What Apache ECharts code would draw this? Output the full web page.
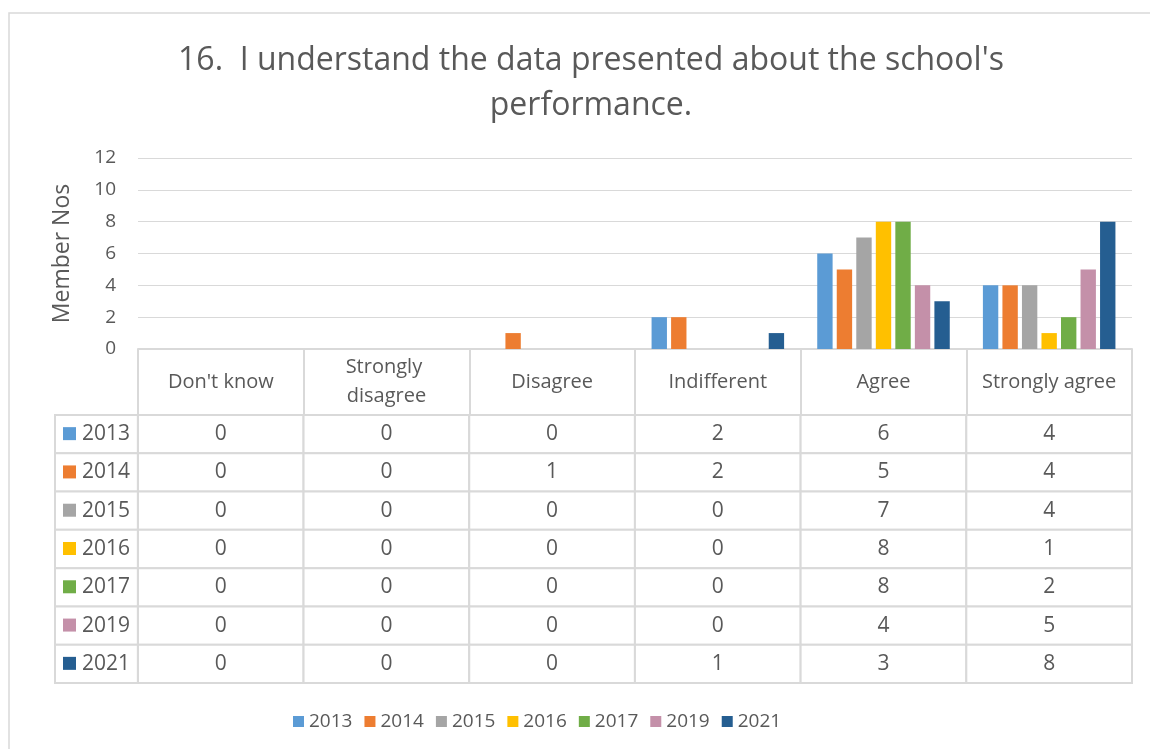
<!DOCTYPE html>
<html>
<head>
<meta charset="utf-8">
<script src="https://cdn.jsdelivr.net/npm/echarts@6/dist/echarts.min.js"></script>
<style>
  html, body { margin: 0; padding: 0; background: #fff; }
  #chart { width: 1150px; height: 749px; }
</style>
</head>
<body>
<div id="chart"></div>
<script>
  // data
  var categories = ["Don't know", 'Strongly disagree', 'Disagree', 'Indifferent', 'Agree', 'Strongly agree'];
  var years = ['2013', '2014', '2015', '2016', '2017', '2019', '2021'];
  var v2013 = [0, 0, 0, 2, 6, 4];
  var v2014 = [0, 0, 1, 2, 5, 4];
  var v2015 = [0, 0, 0, 0, 7, 4];
  var v2016 = [0, 0, 0, 0, 8, 1];
  var v2017 = [0, 0, 0, 0, 8, 2];
  var v2019 = [0, 0, 0, 0, 4, 5];
  var v2021 = [0, 0, 0, 1, 3, 8];
  var yTicks = [0, 2, 4, 6, 8, 10, 12];

  var values = [v2013, v2014, v2015, v2016, v2017, v2019, v2021];
  var colors = ['#5B9BD5', '#ED7D31', '#A5A5A5', '#FFC000', '#70AD47', '#C490A9', '#255E91'];
  var txt = '#595959';
  var line = '#d9d9d9';
  var font = 'Open Sans';

  var chart = echarts.init(document.getElementById('chart'));

  // bars
  var series = years.map(function (y, i) {
    return {
      name: y,
      type: 'bar',
      xAxisIndex: 0,
      yAxisIndex: 0,
      barGap: '27%',
      barCategoryGap: '20%',
      itemStyle: { color: colors[i] },
      data: values[i]
    };
  });

  // table cells (value columns)
  var cellData = [];
  years.forEach(function (y, i) {
    values[i].forEach(function (v, j) {
      cellData.push([j + 0.5, i, v]);
    });
  });
  series.push({
    type: 'custom',
    xAxisIndex: 1,
    yAxisIndex: 1,
    silent: true,
    data: cellData,
    renderItem: function (params, api) {
      var c = api.coord([api.value(0), api.value(1)]);
      var s = api.size([1, 1]);
      return {
        type: 'group',
        children: [
          { type: 'rect', shape: { x: c[0] - s[0] / 2, y: c[1] - s[1] / 2, width: s[0], height: s[1] },
            style: { fill: '#fff', stroke: line, lineWidth: 2 } },
          { type: 'text', x: c[0], y: c[1],
            style: { text: String(api.value(2)), fill: txt, font: '21px "' + font + '"', align: 'center', verticalAlign: 'middle' } }
        ]
      };
    }
  });

  // table row headers (legend keys + years)
  series.push({
    type: 'custom',
    xAxisIndex: 1,
    yAxisIndex: 1,
    silent: true,
    data: years.map(function (y, i) { return [-0.25, i]; }),
    renderItem: function (params, api) {
      var c = api.coord([api.value(0), api.value(1)]);
      var s = api.size([0.5, 1]);
      var x0 = c[0] - s[0] / 2;
      return {
        type: 'group',
        children: [
          { type: 'rect', shape: { x: x0, y: c[1] - s[1] / 2, width: s[0], height: s[1] },
            style: { fill: '#fff', stroke: line, lineWidth: 2 } },
          { type: 'rect', shape: { x: x0 + 8, y: c[1] - 7, width: 13, height: 13 },
            style: { fill: colors[params.dataIndex] } },
          { type: 'text', x: x0 + 27, y: c[1],
            style: { text: years[params.dataIndex], fill: txt, font: '21px "' + font + '"', align: 'left', verticalAlign: 'middle' } }
        ]
      };
    }
  });

  chart.setOption({
    animation: false,
    textStyle: { fontFamily: font },
    title: {
      text: "16.  I understand the data presented about the school's\nperformance.",
      left: 586,
      top: 33,
      textAlign: 'center',
      textStyle: { fontSize: 32, fontWeight: 'normal', color: txt, lineHeight: 45, fontFamily: font }
    },
    graphic: [
      { type: 'rect', silent: true, shape: { x: 9, y: 13, width: 1170, height: 780 },
        style: { fill: 'none', stroke: line, lineWidth: 1.5 } }
    ],
    legend: {
      data: years,
      left: 288,
      top: 707,
      icon: 'rect',
      itemWidth: 11,
      itemHeight: 11,
      itemGap: 12,
      textStyle: { fontSize: 19, color: txt }
    },
    grid: [
      { left: 138, right: 18, top: 158, height: 191 },
      { left: 55, right: 18, top: 415, height: 268 }
    ],
    xAxis: [
      {
        type: 'category',
        gridIndex: 0,
        data: categories,
        axisLine: { lineStyle: { color: line, width: 2 } },
        axisTick: { show: true, interval: 0, length: 66, lineStyle: { color: line, width: 2 } },
        axisLabel: {
          interval: 0, margin: 33, verticalAlign: 'middle', fontSize: 20, color: txt,
          lineHeight: 29, width: 150, overflow: 'break'
        }
      },
      { type: 'value', gridIndex: 1, min: -0.5, max: 6, show: false }
    ],
    yAxis: [
      {
        type: 'value',
        gridIndex: 0,
        min: yTicks[0],
        max: yTicks[yTicks.length - 1],
        interval: 2,
        name: 'Member Nos',
        nameLocation: 'middle',
        nameGap: 64,
        nameTextStyle: { fontSize: 23, color: txt },
        axisLine: { show: false },
        axisTick: { show: false },
        axisLabel: { fontSize: 19, color: txt, margin: 22 },
        splitLine: { lineStyle: { color: line, width: 1 } }
      },
      { type: 'category', gridIndex: 1, data: years, inverse: true, show: false }
    ],
    series: series
  });
</script>
</body>
</html>
